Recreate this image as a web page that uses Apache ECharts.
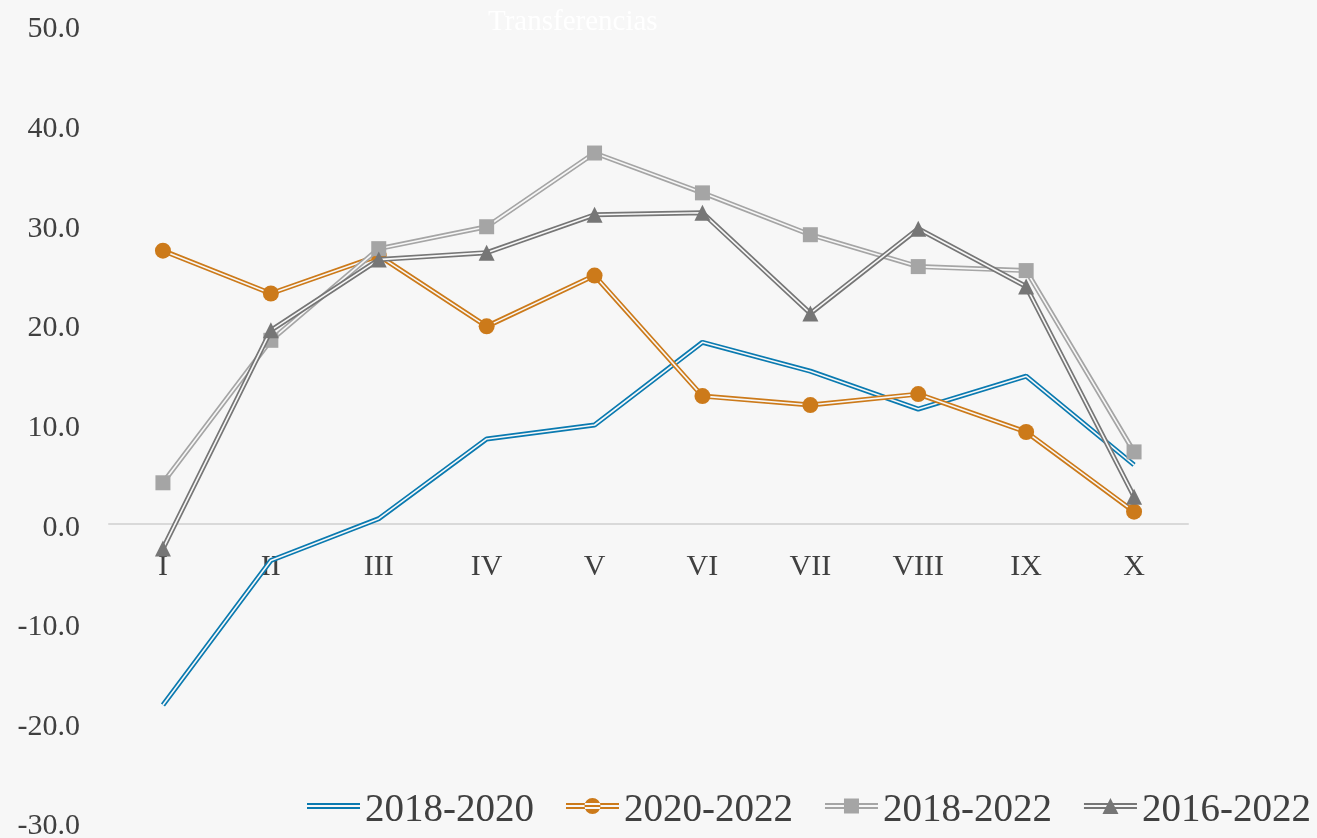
<!DOCTYPE html>
<html>
<head>
<meta charset="utf-8">
<script src="https://cdn.jsdelivr.net/npm/echarts@6/dist/echarts.min.js"></script>
<style>
  html, body { margin: 0; padding: 0; background: #f7f7f7; }
  #main { width: 1317px; height: 838px; }
</style>
</head>
<body>
<div id="main"></div>
<script>
// categorias (meses)
const categories = ["I", "II", "III", "IV", "V", "VI", "VII", "VIII", "IX", "X"];
const seriesNames = ["2018-2020", "2020-2022", "2018-2022", "2016-2022"];

// valores por serie
const data2018_2020 = [-18.2, -3.7, 0.5, 8.5, 9.9, 18.2, 15.3, 11.5, 14.8, 5.9];
const data2020_2022 = [27.4, 23.1, 26.9, 19.8, 24.9, 12.8, 11.9, 13.0, 9.2, 1.2];
const data2018_2022 = [4.1, 18.4, 27.6, 29.8, 37.2, 33.2, 29.0, 25.8, 25.4, 7.2];
const data2016_2022 = [-2.5, 19.4, 26.5, 27.2, 31.0, 31.2, 21.1, 29.6, 23.8, 2.7];

const yTicks = [-30, -20, -10, 0, 10, 20, 30, 40, 50];

const FONT = "Liberation Serif";
const BG = "#f7f7f7";
const TXT = "#404040";

const colors = ["#0a7ab0", "#cc7a1a", "#a5a5a5", "#767676"];
const symbols = ["none", "circle", "rect", "triangle"];
const symbolSizes = [0, 16, 15, 16];
const allData = [data2018_2020, data2020_2022, data2018_2022, data2016_2022];

// grid
const GRID_TOP = 25.5;
const GRID_BOTTOM = 15.5;
const PLOT_H = 838 - GRID_TOP - GRID_BOTTOM;
// el eje de categorias va en el 0 -> se sube con offset
const zeroOffset = PLOT_H * (0 - yTicks[0]) / (yTicks[yTicks.length - 1] - yTicks[0]);

// iconos de leyenda: doble linea + marcador (caja 53x16)
const bars = "M0,5h53v2h-53zM0,9h53v2h-53z";
const legendIcons = [
  "path://" + bars + "M26,0h0.01v0.01h-0.01zM26,16h0.01v-0.01h-0.01z",
  "path://" + bars + "M18.5,8a8,8 0 1,0 16,0a8,8 0 1,0 -16,0z",
  "path://" + bars + "M19,0.5h15v15h-15z",
  "path://" + bars + "M26.5,0L34.5,16h-16z"
];

let series = [];
seriesNames.forEach((name, i) => {
  // linea de color (gruesa)
  series.push({
    name: name,
    type: "line",
    data: allData[i],
    symbol: "none",
    lineStyle: { color: colors[i], width: 5 },
    itemStyle: { color: colors[i] },
    z: 2 + i * 3,
    silent: true
  });
  // hueco central de la doble linea
  series.push({
    name: name + "_gap",
    type: "line",
    data: allData[i],
    symbol: "none",
    lineStyle: { color: BG, width: 1.6 },
    z: 3 + i * 3,
    silent: true
  });
  // marcadores
  if (symbols[i] !== "none") {
    series.push({
      name: name + "_mk",
      type: "line",
      data: allData[i],
      symbol: symbols[i],
      symbolSize: symbolSizes[i],
      lineStyle: { width: 0, opacity: 0 },
      itemStyle: { color: colors[i], borderWidth: 0 },
      z: 4 + i * 3,
      silent: true
    });
  }
});

const chart = echarts.init(document.getElementById("main"), null, { renderer: "canvas" });

chart.setOption({
  backgroundColor: BG,
  animation: false,
  title: {
    text: "Transferencias",
    left: 483,
    top: 3,
    textStyle: { color: "#ffffff", fontFamily: FONT, fontSize: 29, fontWeight: "normal" }
  },
  legend: {
    left: 302,
    top: 786,
    selectedMode: false,
    itemWidth: 53,
    itemHeight: 16,
    itemGap: 32,
    symbolKeepAspect: true,
    itemStyle: { borderWidth: 0 },
    formatter: (n) => "{t|" + n + "}",
    textStyle: {
      color: TXT, fontFamily: FONT, fontSize: 39,
      rich: { t: { color: TXT, fontFamily: FONT, fontSize: 39, padding: [9, 0, 0, 0] } }
    },
    data: seriesNames.map((n, i) => ({ name: n, icon: legendIcons[i] }))
  },
  grid: {
    left: 109, right: 129, top: GRID_TOP, bottom: GRID_BOTTOM,
    containLabel: false,
    outerBoundsMode: "none"
  },
  xAxis: {
    type: "category",
    data: categories,
    boundaryGap: true,
    position: "bottom",
    offset: -zeroOffset,
    axisLine: { onZero: false, lineStyle: { color: "#d9d9d9", width: 2 } },
    axisTick: { show: false },
    axisLabel: { color: TXT, fontFamily: FONT, fontSize: 30, margin: 28 },
    splitLine: { show: false }
  },
  yAxis: {
    type: "value",
    min: yTicks[0],
    max: yTicks[yTicks.length - 1],
    interval: 10,
    axisLine: { show: false },
    axisTick: { show: false },
    splitLine: { show: false },
    axisLabel: {
      color: TXT,
      fontFamily: FONT,
      fontSize: 30,
      margin: 29,
      formatter: (v) => "{v|" + v.toFixed(1) + "}",
      rich: { v: { color: TXT, fontFamily: FONT, fontSize: 30, padding: [8, 0, 0, 0] } }
    }
  },
  series: series
});
</script>
</body>
</html>
